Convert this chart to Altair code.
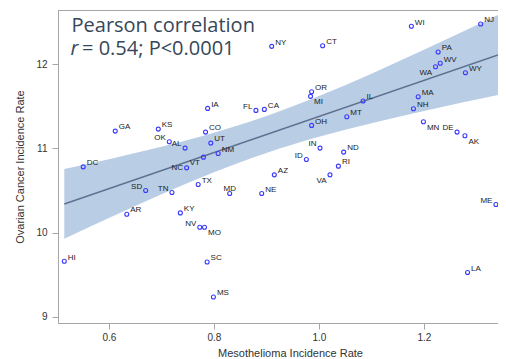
import altair as alt
import pandas as pd

states = ["AL","AK","AZ","AR","CA","CO","CT","DE","DC","FL","GA","HI","ID","IL","IN","IA","KS",
          "KY","LA","ME","MD","MA","MI","MN","MS","MO","MT","NE","NV","NH","NJ","NM","NY","NC",
          "ND","OH","OK","OR","PA","RI","SC","SD","TN","TX","UT","VT","VA","WA","WV","WI","WY"]
meso = [0.745,1.278,0.915,0.634,0.896,0.784,1.007,1.263,0.551,0.880,0.612,0.515,0.976,1.084,1.002,
        0.788,0.694,0.736,1.283,1.337,0.830,1.189,0.984,1.199,0.799,0.782,1.053,0.891,0.773,1.180,
        1.308,0.808,0.910,0.748,1.047,0.986,0.715,0.986,1.227,1.037,0.787,0.670,0.720,0.770,0.794,
        0.780,1.021,1.222,1.231,1.176,1.279]
ovarian = [11.004,11.150,10.686,10.218,11.464,11.194,12.221,11.194,10.781,11.452,11.206,9.658,10.869,
           11.563,11.004,11.476,11.230,10.233,9.524,10.333,10.464,11.614,11.619,11.317,9.233,10.063,
           11.376,10.464,10.063,11.471,12.480,10.940,12.214,10.769,10.956,11.274,11.079,11.674,
           12.146,10.789,9.650,10.500,10.476,10.571,11.063,10.896,10.686,11.971,12.012,12.452,11.900]
label_pos = ["NW","SE","NE","NE","NE","NE","NE","NW","NE","NW","NE","NE","NW","NE","NW","NE","NE",
             "NE","NE","NW","N","NE","SE","SE","NE","SE","NE","NE","NW","NE","NE","NE","NE","W",
             "NE","NE","NW","NE","NE","NE","NE","NW","NW","NE","NE","SW","SW","SW","NE","NE","NE"]

# fitted line and 95% confidence band
fit_x = [0.515, 1.341]
fit_y = [10.340, 12.111]
band_x = [0.515, 0.6, 0.7, 0.8, 0.9, 1.0, 1.1, 1.2, 1.341]
band_lo = [9.925, 10.172, 10.455, 10.716, 10.947, 11.138, 11.299, 11.445, 11.635]
band_hi = [10.755, 10.872, 11.019, 11.186, 11.385, 11.622, 11.889, 12.173, 12.587]

x_ticks = [0.6, 0.8, 1.0, 1.2]
y_ticks = [9, 10, 11, 12]
x_domain = [0.503, 1.341]
y_domain = [8.924, 12.646]

df = pd.DataFrame({"state": states, "x": meso, "y": ovarian, "pos": label_pos})
band = pd.DataFrame({"x": band_x, "lo": band_lo, "hi": band_hi})
fit = pd.DataFrame({"x": fit_x, "fit": fit_y})

xs = alt.Scale(domain=x_domain, nice=False, zero=False)
ys = alt.Scale(domain=y_domain, nice=False, zero=False)

axis_common = dict(grid=False, tickSize=6, domainColor="#a6a6a6", tickColor="#a6a6a6",
                   labelColor="#333333", labelFontSize=10, labelFont="Liberation Sans",
                   titleColor="#333333", titleFontSize=11, titleFont="Liberation Sans",
                   titleFontWeight="normal")

X = alt.X("x:Q", scale=xs, axis=alt.Axis(values=x_ticks, format=".1f",
          title="Mesothelioma Incidence Rate", labelPadding=3, titlePadding=5, titleX=232,
          **axis_common))
Ylo = alt.Y("lo:Q", scale=ys, axis=alt.Axis(values=y_ticks, format="d",
          title="Ovarian Cancer Incidence Rate", labelPadding=5, titlePadding=10, **axis_common))

band_layer = alt.Chart(band).mark_area(color="#b9cde5", opacity=1, clip=True,
                                       interpolate="monotone").encode(x=X, y=Ylo, y2="hi:Q")
line_layer = alt.Chart(fit).mark_line(color="#5d7290", strokeWidth=1.5, clip=True).encode(
    x="x:Q", y="fit:Q")
pts = alt.Chart(df).mark_point(shape="circle", filled=False, size=16, strokeWidth=1.1,
                               color="#3a3aff", opacity=1).encode(x="x:Q", y="y:Q")

offsets = {
    "NE": dict(align="left", dx=3.5, dy=-1.7),
    "NW": dict(align="right", dx=-3.5, dy=-1.7),
    "SE": dict(align="left", dx=3.5, dy=8),
    "SW": dict(align="right", dx=-3.5, dy=7.8),
    "W": dict(align="right", dx=-3.5, dy=2.5),
    "N": dict(align="center", dx=0, dy=-2.5),
}
label_layers = []
for p, o in offsets.items():
    label_layers.append(
        alt.Chart(df).transform_filter(alt.datum.pos == p).mark_text(
            font="Liberation Sans", fontSize=8, color="#222222", baseline="alphabetic", **o
        ).encode(x="x:Q", y="y:Q", text="state:N"))

top_rule = alt.Chart(pd.DataFrame({"a": [0]})).mark_rule(color="#a6a6a6", strokeWidth=1).encode(
    y=alt.value(0.5))

ann_font = "Open Sans"
ann_color = "#36475a"
ann1 = alt.Chart(pd.DataFrame({"t": ["Pearson correlation"]})).mark_text(
    font=ann_font, fontSize=20, color=ann_color, align="left", baseline="alphabetic").encode(
    x=alt.value(13.5), y=alt.value(22), text="t:N")
ann2 = alt.Chart(pd.DataFrame({"t": ["r"]})).mark_text(
    font=ann_font, fontSize=20, fontStyle="italic", color=ann_color, align="left",
    baseline="alphabetic").encode(x=alt.value(12.5), y=alt.value(45), text="t:N")
ann3 = alt.Chart(pd.DataFrame({"t": ["= 0.54; P<0.0001"]})).mark_text(
    font=ann_font, fontSize=20, color=ann_color, align="left", baseline="alphabetic").encode(
    x=alt.value(24), y=alt.value(45), text="t:N")

chart = alt.layer(band_layer, line_layer, pts, *label_layers, top_rule, ann1, ann2, ann3).properties(
    width=440, height=313,
    autosize=alt.AutoSizeParams(type="none"),
    padding={"left": 50, "top": 2, "right": 0, "bottom": 36},
).configure_view(stroke=None).configure(background="white")

chart.save("out.html", embed_options={"renderer": "svg", "actions": False})
